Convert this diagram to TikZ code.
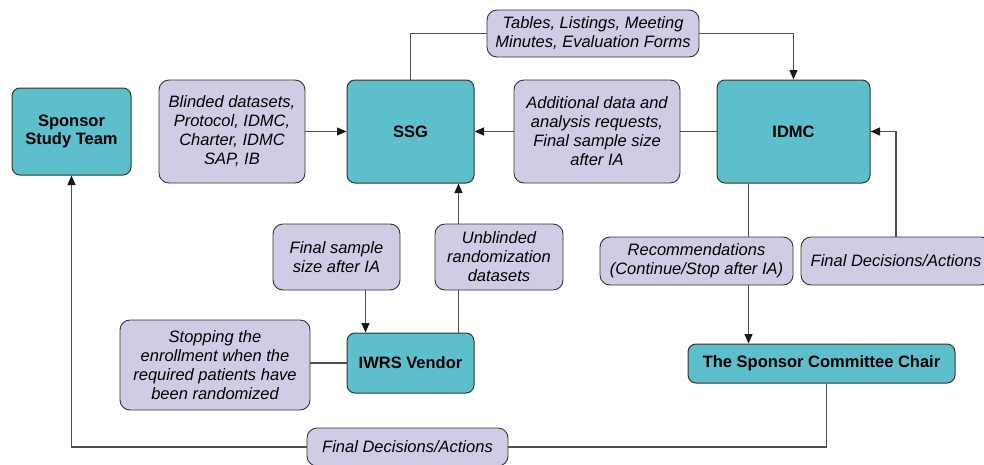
\documentclass[tikz,border=0pt]{standalone}
\usepackage{fontspec}
\setmainfont{Liberation Sans}
\usetikzlibrary{arrows.meta}
\definecolor{boxteal}{HTML}{5EBFCC}
\definecolor{boxlilac}{HTML}{D0CCE6}
\definecolor{wire}{HTML}{505050}
\tikzset{
  party/.style={draw=black!80, fill=boxteal, rounded corners=8pt, line width=1pt,
    font=\fontsize{16.5}{18}\selectfont\bfseries, align=center, inner sep=0pt},
  info/.style={draw=black!80, fill=boxlilac, rounded corners=10pt, line width=0.9pt,
    font=\fontsize{16.5}{19}\selectfont\itshape, align=center, inner sep=0pt},
  flow/.style={draw=wire, line width=1.3pt},
  tip/.style={-{Triangle[length=9.5pt,width=8pt,color=black!90]}}
}

\begin{document}
\begin{tikzpicture}[x=1pt,y=-1pt]
    \useasboundingbox (0,0) rectangle (984,464);
    \node[party, minimum width=119pt, minimum height=87pt] (team) at (71.5,131.5) {Sponsor\\Study Team};
    \node[info, minimum width=146pt, minimum height=103pt] (blinded) at (232,131.5) {Blinded datasets,\\Protocol, IDMC,\\Charter, IDMC\\SAP, IB};
    \node[party, minimum width=127pt, minimum height=103pt] (ssg) at (410.5,131.5) {SSG};
    \node[info, minimum width=212pt, minimum height=47pt] (tables) at (593,33.5) {Tables, Listings, Meeting\\Minutes, Evaluation Forms};
    \node[info, minimum width=166pt, minimum height=103pt] (extra) at (597,131.5) {Additional data and\\analysis requests,\\Final sample size\\after IA};
    \node[party, minimum width=153pt, minimum height=103pt] (idmc) at (793.5,131.5) {IDMC};
    \node[info, minimum width=193pt, minimum height=48pt] (recs) at (696.5,261) {Recommendations\\(Continue/Stop after IA)};
    \node[info, minimum width=190pt, minimum height=48pt] (decide) at (896,261) {Final Decisions/Actions};
    \node[info, minimum width=127pt, minimum height=66pt] (finalsize) at (336.5,257) {Final sample\\size after IA};
    \node[info, minimum width=128pt, minimum height=66pt] (unblinded) at (499,257) {Unblinded\\randomization\\datasets};
    \node[info, minimum width=190pt, minimum height=90pt] (stopping) at (215,365) {Stopping the\\enrollment when the\\required patients have\\been randomized};
    \node[party, minimum width=127pt, minimum height=60pt] (iwrs) at (410.5,363) {IWRS Vendor};
    \node[party, minimum width=267pt, minimum height=39pt] (chair) at (821.5,363.5) {The Sponsor Committee Chair};
    \node[info, minimum width=201pt, minimum height=38pt] (report) at (407.5,447) {Final Decisions/Actions};

    \coordinate (split) at ([xshift=32pt]idmc.south west);
    \coordinate (feed) at ([xshift=19pt]iwrs.north west);
    \coordinate (back) at ([xshift=-16pt]iwrs.north east);
    \coordinate (drop) at ([xshift=5pt]chair.south);

    \draw[flow] (ssg.north) |- (tables.west);
    \draw[flow, tip] (tables.east) -| (idmc.north);
    \draw[flow, tip] (blinded) -- (ssg);
    \draw[flow] (idmc) -- (extra);
    \draw[flow, tip] (extra) -- (ssg);
    \draw[flow] (split) -- (split |- recs.north);
    \draw[flow, tip] (split |- recs.south) -- (split |- chair.north);
    \draw[flow, tip] (decide.north) |- (idmc.east);
    \draw[flow, tip] (feed |- finalsize.south) -- (feed);
    \draw[flow] (back) -- (back |- unblinded.south);
    \draw[flow, tip] (back |- unblinded.north) -- (back |- ssg.south);
    \draw[flow] (stopping.east |- iwrs.west) -- (iwrs.west);
    \draw[flow] (drop) |- (report.east);
    \draw[flow, tip] (report.west) -| (team.south);
\end{tikzpicture}
\end{document}
